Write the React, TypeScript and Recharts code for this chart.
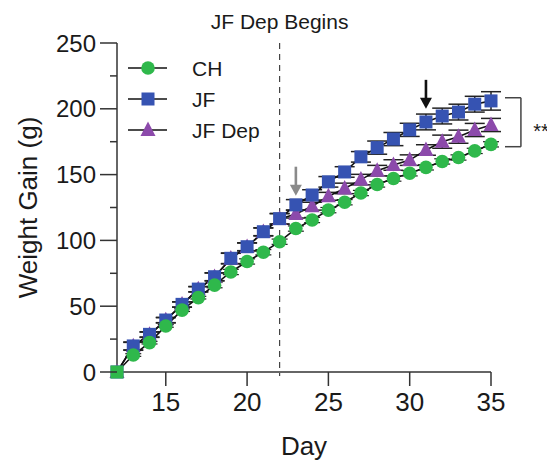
import React from 'react';
import {
  LineChart, Line, XAxis, YAxis, ErrorBar, ReferenceLine, ReferenceDot,
} from 'recharts';

// ---- data ----
const days = [12, 13, 14, 15, 16, 17, 18, 19, 20, 21, 22, 23, 24, 25, 26, 27, 28, 29, 30, 31, 32, 33, 34, 35];
const chGain = [0, 12.9, 22.3, 35, 47, 56.5, 66, 76, 84, 91, 99, 109, 115.5, 123, 129, 136, 142.5, 147, 151, 155.5, 160, 163, 168, 173];
const jfGain = [0, 19.8, 28.6, 39.5, 51.4, 63, 72.4, 86.4, 95.2, 106.6, 116.5, 127, 134.5, 144.5, 152, 163.5, 170.5, 177, 184, 190, 194.5, 197.5, 203.5, 206];
const jfDepGain = [0, 19.5, 28.3, 39.3, 51.2, 62.8, 72.2, 86.2, 95, 106.4, 116.3, 120, 126, 133.5, 139.5, 146.2, 153, 157.3, 161, 168.7, 175, 178.8, 183.9, 187.7];
const chErr = [0, 1, 1, 1, 1, 1, 2, 2, 2, 2, 2, 2, 2, 2, 2, 2, 2, 2, 2, 2, 2, 2, 2, 2];
const jfErr = [0, 3, 2, 2, 2, 2, 3, 4, 3, 3, 4, 4, 4, 4, 4, 4, 5, 5, 5, 6, 6, 6, 6, 7];
const jfDepErr = [0, 3, 2, 2, 2, 2, 3, 4, 3, 3, 4, 3, 3, 3, 4, 4, 4, 4, 4, 4, 5, 5, 5, 5];

const xTicks = [15, 20, 25, 30, 35];
const yTicks = [0, 25, 50, 75, 100, 125, 150, 175, 200, 225, 250];

const depDay = 22;
const depLabel = 'JF Dep Begins';
const grayArrow = { day: 23, from: 156, to: 134 };
const blackArrow = { day: 31, from: 222, to: 200 };
const bracket = { x1: 35.86, x2: 36.84, top: 208.4, bottom: 171.2 };
const sigText = { day: 37.6, value: 186, text: '**' };

const seriesNames = ['CH', 'JF', 'JF Dep'];

const data = days.map((d, i) => ({
  day: d,
  ch: chGain[i],
  jf: jfGain[i],
  jfDep: jfDepGain[i],
  chErr: chErr[i],
  jfErr: jfErr[i],
  jfDepErr: jfDepErr[i],
}));

// ---- styles ----
const GREEN = '#2fb84b';
const BLUE = '#3653b2';
const PURPLE = '#8c4aab';
const FONT = "Arial, 'Liberation Sans', sans-serif";
const TXT = '#1a1a1a';
const AX = '#333';

const CircleDot = (p: any) => {
  const { cx, cy, index } = p;
  if (cx == null || cy == null) return <g key={`c${index}`} />;
  if (index === 0) return <rect key={`c${index}`} x={cx - 6.5} y={cy - 6.5} width={13} height={13} fill={GREEN} />;
  return <circle key={`c${index}`} cx={cx} cy={cy} r={6.8} fill={GREEN} />;
};
const SquareDot = (p: any) => {
  const { cx, cy, index } = p;
  if (cx == null || cy == null) return <g key={`s${index}`} />;
  return <rect key={`s${index}`} x={cx - 6.5} y={cy - 6.5} width={13} height={13} fill={BLUE} />;
};
const TriDot = (p: any) => {
  const { cx, cy, index } = p;
  if (cx == null || cy == null) return <g key={`t${index}`} />;
  return <polygon key={`t${index}`} points={`${cx},${cy - 8.5} ${cx - 7.5},${cy + 6} ${cx + 7.5},${cy + 6}`} fill={PURPLE} />;
};

const YTick = (props: any) => {
  const { x, y, payload } = props;
  const v = payload.value;
  const major = v % 50 === 0;
  const ax = x + 17 + 4;
  return (
    <g>
      <line x1={ax - (major ? 17 : 7)} x2={ax} y1={y} y2={y} stroke={AX} strokeWidth={1.5} />
      {major && (
        <text x={x} y={y} dy="0.36em" textAnchor="end" fontSize={24} fontFamily={FONT} fill={TXT}>{v}</text>
      )}
    </g>
  );
};

const arrowShape = (color: string) => (props: any) => {
  const { x1, y1, x2, y2 } = props;
  if (x1 == null) return <g />;
  const head = 11;
  return (
    <g>
      <line x1={x1} y1={y1} x2={x2} y2={y2 - head + 1} stroke={color} strokeWidth={2.6} />
      <polygon points={`${x2},${y2} ${x2 - 6},${y2 - head} ${x2 + 6},${y2 - head}`} fill={color} />
    </g>
  );
};

const LegendBox = () => {
  const rows = [
    { name: seriesNames[0], kind: 'c' },
    { name: seriesNames[1], kind: 's' },
    { name: seriesNames[2], kind: 't' },
  ];
  return (
    <svg width={160} height={100} style={{ position: 'absolute', left: 120, top: 53 }}>
      {rows.map((r, i) => {
        const y = 15 + i * 31;
        const cx = 28;
        return (
          <g key={r.name}>
            <line x1={8} x2={47} y1={y} y2={y} stroke="#111" strokeWidth={1.6} />
            {r.kind === 'c' && <circle cx={cx} cy={y} r={6.8} fill={GREEN} />}
            {r.kind === 's' && <rect x={cx - 6.5} y={y - 6.5} width={13} height={13} fill={BLUE} />}
            {r.kind === 't' && <polygon points={`${cx},${y - 8.5} ${cx - 7.5},${y + 6} ${cx + 7.5},${y + 6}`} fill={PURPLE} />}
            <text x={72} y={y} dy="0.36em" fontSize={21} fontFamily={FONT} fill={TXT}>{r.name}</text>
          </g>
        );
      })}
    </svg>
  );
};

export default function App() {
  return (
    <div style={{ position: 'absolute', left: 0, top: 0, width: 547, height: 466, background: '#fff' }}>
      <LineChart
        width={547}
        height={466}
        data={data}
        margin={{ top: 43, right: 56, bottom: 0, left: 0 }}
      >
        <XAxis
          dataKey="day"
          type="number"
          domain={[12, 35]}
          ticks={xTicks}
          interval={0}
          height={94}
          tickSize={14}
          tickMargin={7}
          stroke={AX}
          strokeWidth={1.5}
          tick={{ fontSize: 26, fontFamily: FONT, fill: TXT }}
          label={{ value: 'Day', position: 'insideBottom', offset: 11, fontSize: 26, fontFamily: FONT, fill: TXT }}
        />
        <YAxis
          type="number"
          domain={[0, 250]}
          ticks={yTicks}
          interval={0}
          width={117}
          tickSize={17}
          tickMargin={4}
          tickLine={false}
          stroke={AX}
          strokeWidth={1.5}
          tick={<YTick />}
          label={{
            value: 'Weight Gain (g)', angle: -90, position: 'insideLeft', offset: 28,
            fontSize: 26, fontFamily: FONT, fill: TXT, style: { textAnchor: 'middle' },
          }}
        />
        <ReferenceLine
          segment={[{ x: depDay, y: 250 }, { x: depDay, y: -3 }]}
          ifOverflow="visible"
          stroke="#444"
          strokeWidth={1.2}
          strokeDasharray="6 5"
          label={{ value: depLabel, position: 'top', offset: 14, fontSize: 21, fontFamily: FONT, fill: TXT }}
        />
        <Line
          dataKey="jfDep"
          stroke="#111"
          strokeWidth={1.6}
          dot={TriDot}
          activeDot={false}
          isAnimationActive={false}
        >
          <ErrorBar dataKey="jfDepErr" width={10} stroke="#222" strokeWidth={1.5} direction="y" />
        </Line>
        <Line
          dataKey="jf"
          stroke="#111"
          strokeWidth={1.6}
          dot={SquareDot}
          activeDot={false}
          isAnimationActive={false}
        >
          <ErrorBar dataKey="jfErr" width={10} stroke="#222" strokeWidth={1.5} direction="y" />
        </Line>
        <Line
          dataKey="ch"
          stroke="#111"
          strokeWidth={1.6}
          dot={CircleDot}
          activeDot={false}
          isAnimationActive={false}
        >
          <ErrorBar dataKey="chErr" width={8} stroke="#222" strokeWidth={1.2} direction="y" />
        </Line>
        <ReferenceLine
          segment={[{ x: grayArrow.day, y: grayArrow.from }, { x: grayArrow.day, y: grayArrow.to }]}
          ifOverflow="visible"
          shape={arrowShape('#8a8a8a')}
        />
        <ReferenceLine
          segment={[{ x: blackArrow.day, y: blackArrow.from }, { x: blackArrow.day, y: blackArrow.to }]}
          ifOverflow="visible"
          shape={arrowShape('#111')}
        />
        <ReferenceLine
          segment={[{ x: bracket.x1, y: bracket.top }, { x: bracket.x2, y: bracket.top }]}
          ifOverflow="visible"
          stroke="#444"
          strokeWidth={1.5}
        />
        <ReferenceLine
          segment={[{ x: bracket.x2, y: bracket.top }, { x: bracket.x2, y: bracket.bottom }]}
          ifOverflow="visible"
          stroke="#444"
          strokeWidth={1.5}
        />
        <ReferenceLine
          segment={[{ x: bracket.x1, y: bracket.bottom }, { x: bracket.x2, y: bracket.bottom }]}
          ifOverflow="visible"
          stroke="#444"
          strokeWidth={1.5}
        />
        <ReferenceDot
          x={sigText.day}
          y={sigText.value}
          ifOverflow="visible"
          shape={(p: any) => (
            <text x={p.cx} y={p.cy} dy="0.55em" fontSize={20} fontFamily={FONT} fill={TXT}>{sigText.text}</text>
          )}
        />
      </LineChart>
      <LegendBox />
    </div>
  );
}
